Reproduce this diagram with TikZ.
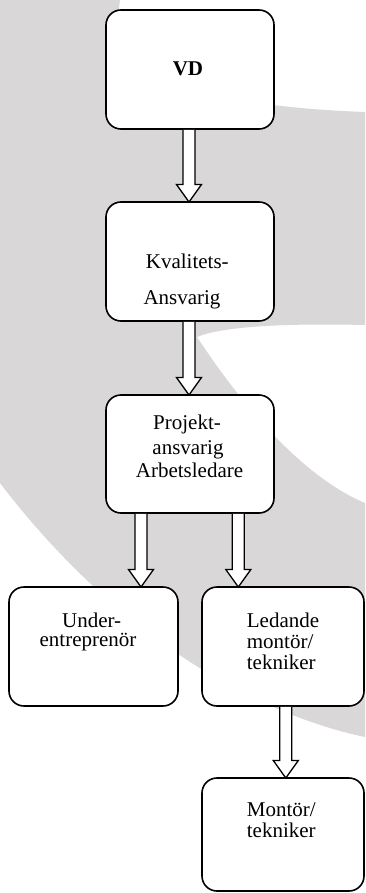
\documentclass[tikz,border=0pt]{standalone}
\usepackage{fontspec}
\setmainfont{Liberation Serif}
\usetikzlibrary{calc}
\definecolor{swoosh}{RGB}{217,215,216}
\tikzset{
  box/.style={draw=black, line width=1.6pt, fill=white, rounded corners=15pt, inner sep=0pt, outer sep=0pt},
  lbl/.style={inner sep=0pt, font=\fontsize{21}{25}\selectfont},
  barrow/.style={draw=black, line width=1.3pt, fill=white, line join=miter},
}
\newcommand\blockarr[3]{%
  \filldraw[barrow] let \p1=(#2.south), \p2=(#3.north) in
    (#1pt-6pt,\y1-0.8pt) -- (#1pt-6pt,\y2+17.5pt) -- (#1pt-12.5pt,\y2+17.5pt) -- (#1pt,\y2)
    -- (#1pt+12.5pt,\y2+17.5pt) -- (#1pt+6pt,\y2+17.5pt) -- (#1pt+6pt,\y1-0.8pt);}
\begin{document}
\begin{tikzpicture}[x=1pt,y=-1pt]
\useasboundingbox (0,0) rectangle (365,893);
\fill[white] (0,0) rectangle (365,893);
\fill[swoosh] (0,0) -- (120,0) .. controls (108,75) and (200,106) .. (365,112)
  -- (365,325) .. controls (280,323) and (220,327) .. (197,337)
  .. controls (245,410) and (305,478) .. (365,503)
  -- (365,737) .. controls (260,715) and (120,640) .. (0,483) -- cycle;

\node[box, minimum width=168pt, minimum height=119pt] (vd) at (190,69.5) {};
\node[box, minimum width=168pt, minimum height=119pt] (kv) at (190,261.5) {};
\node[box, minimum width=168pt, minimum height=118pt] (pr) at (190,454) {};
\node[box, minimum width=169pt, minimum height=119pt] (un) at (93.5,646.5) {};
\node[box, minimum width=162pt, minimum height=119pt] (le) at (283,646.5) {};
\node[box, minimum width=162pt, minimum height=113pt] (mo) at (283,834.5) {};

\blockarr{189}{vd}{kv}
\blockarr{189}{kv}{pr}
\blockarr{141}{pr}{un}
\blockarr{238.3}{pr}{le}
\blockarr{285.8}{le}{mo}

\node[lbl, anchor=base] (vdt) at (188,76) {\bfseries VD};
\node[lbl, anchor=base west] (kvt1) at (145.7,268) {Kvalitets-};
\node[lbl, anchor=base west] (kvt2) at (143.3,304) {Ansvarig};
\node[lbl, anchor=base] (prt1) at (187,429.5) {Projekt-};
\node[lbl, anchor=base] (prt2) at (188,454.5) {ansvarig};
\node[lbl, anchor=base] (prt3) at (189.5,477) {Arbetsledare};
\node[lbl, anchor=base] (unt1) at (91.7,627) {Under-};
\node[lbl, anchor=base] (unt2) at (88,646) {entreprenör};
\node[lbl, anchor=base west] (let1) at (246.7,627) {Ledande};
\node[lbl, anchor=base west] (let2) at (246.7,648) {montör/};
\node[lbl, anchor=base west] (let3) at (246.7,669) {tekniker};
\node[lbl, anchor=base west] (mot1) at (246.7,816) {Montör/};
\node[lbl, anchor=base west] (mot2) at (246.7,837) {tekniker};
\end{tikzpicture}
\end{document}
